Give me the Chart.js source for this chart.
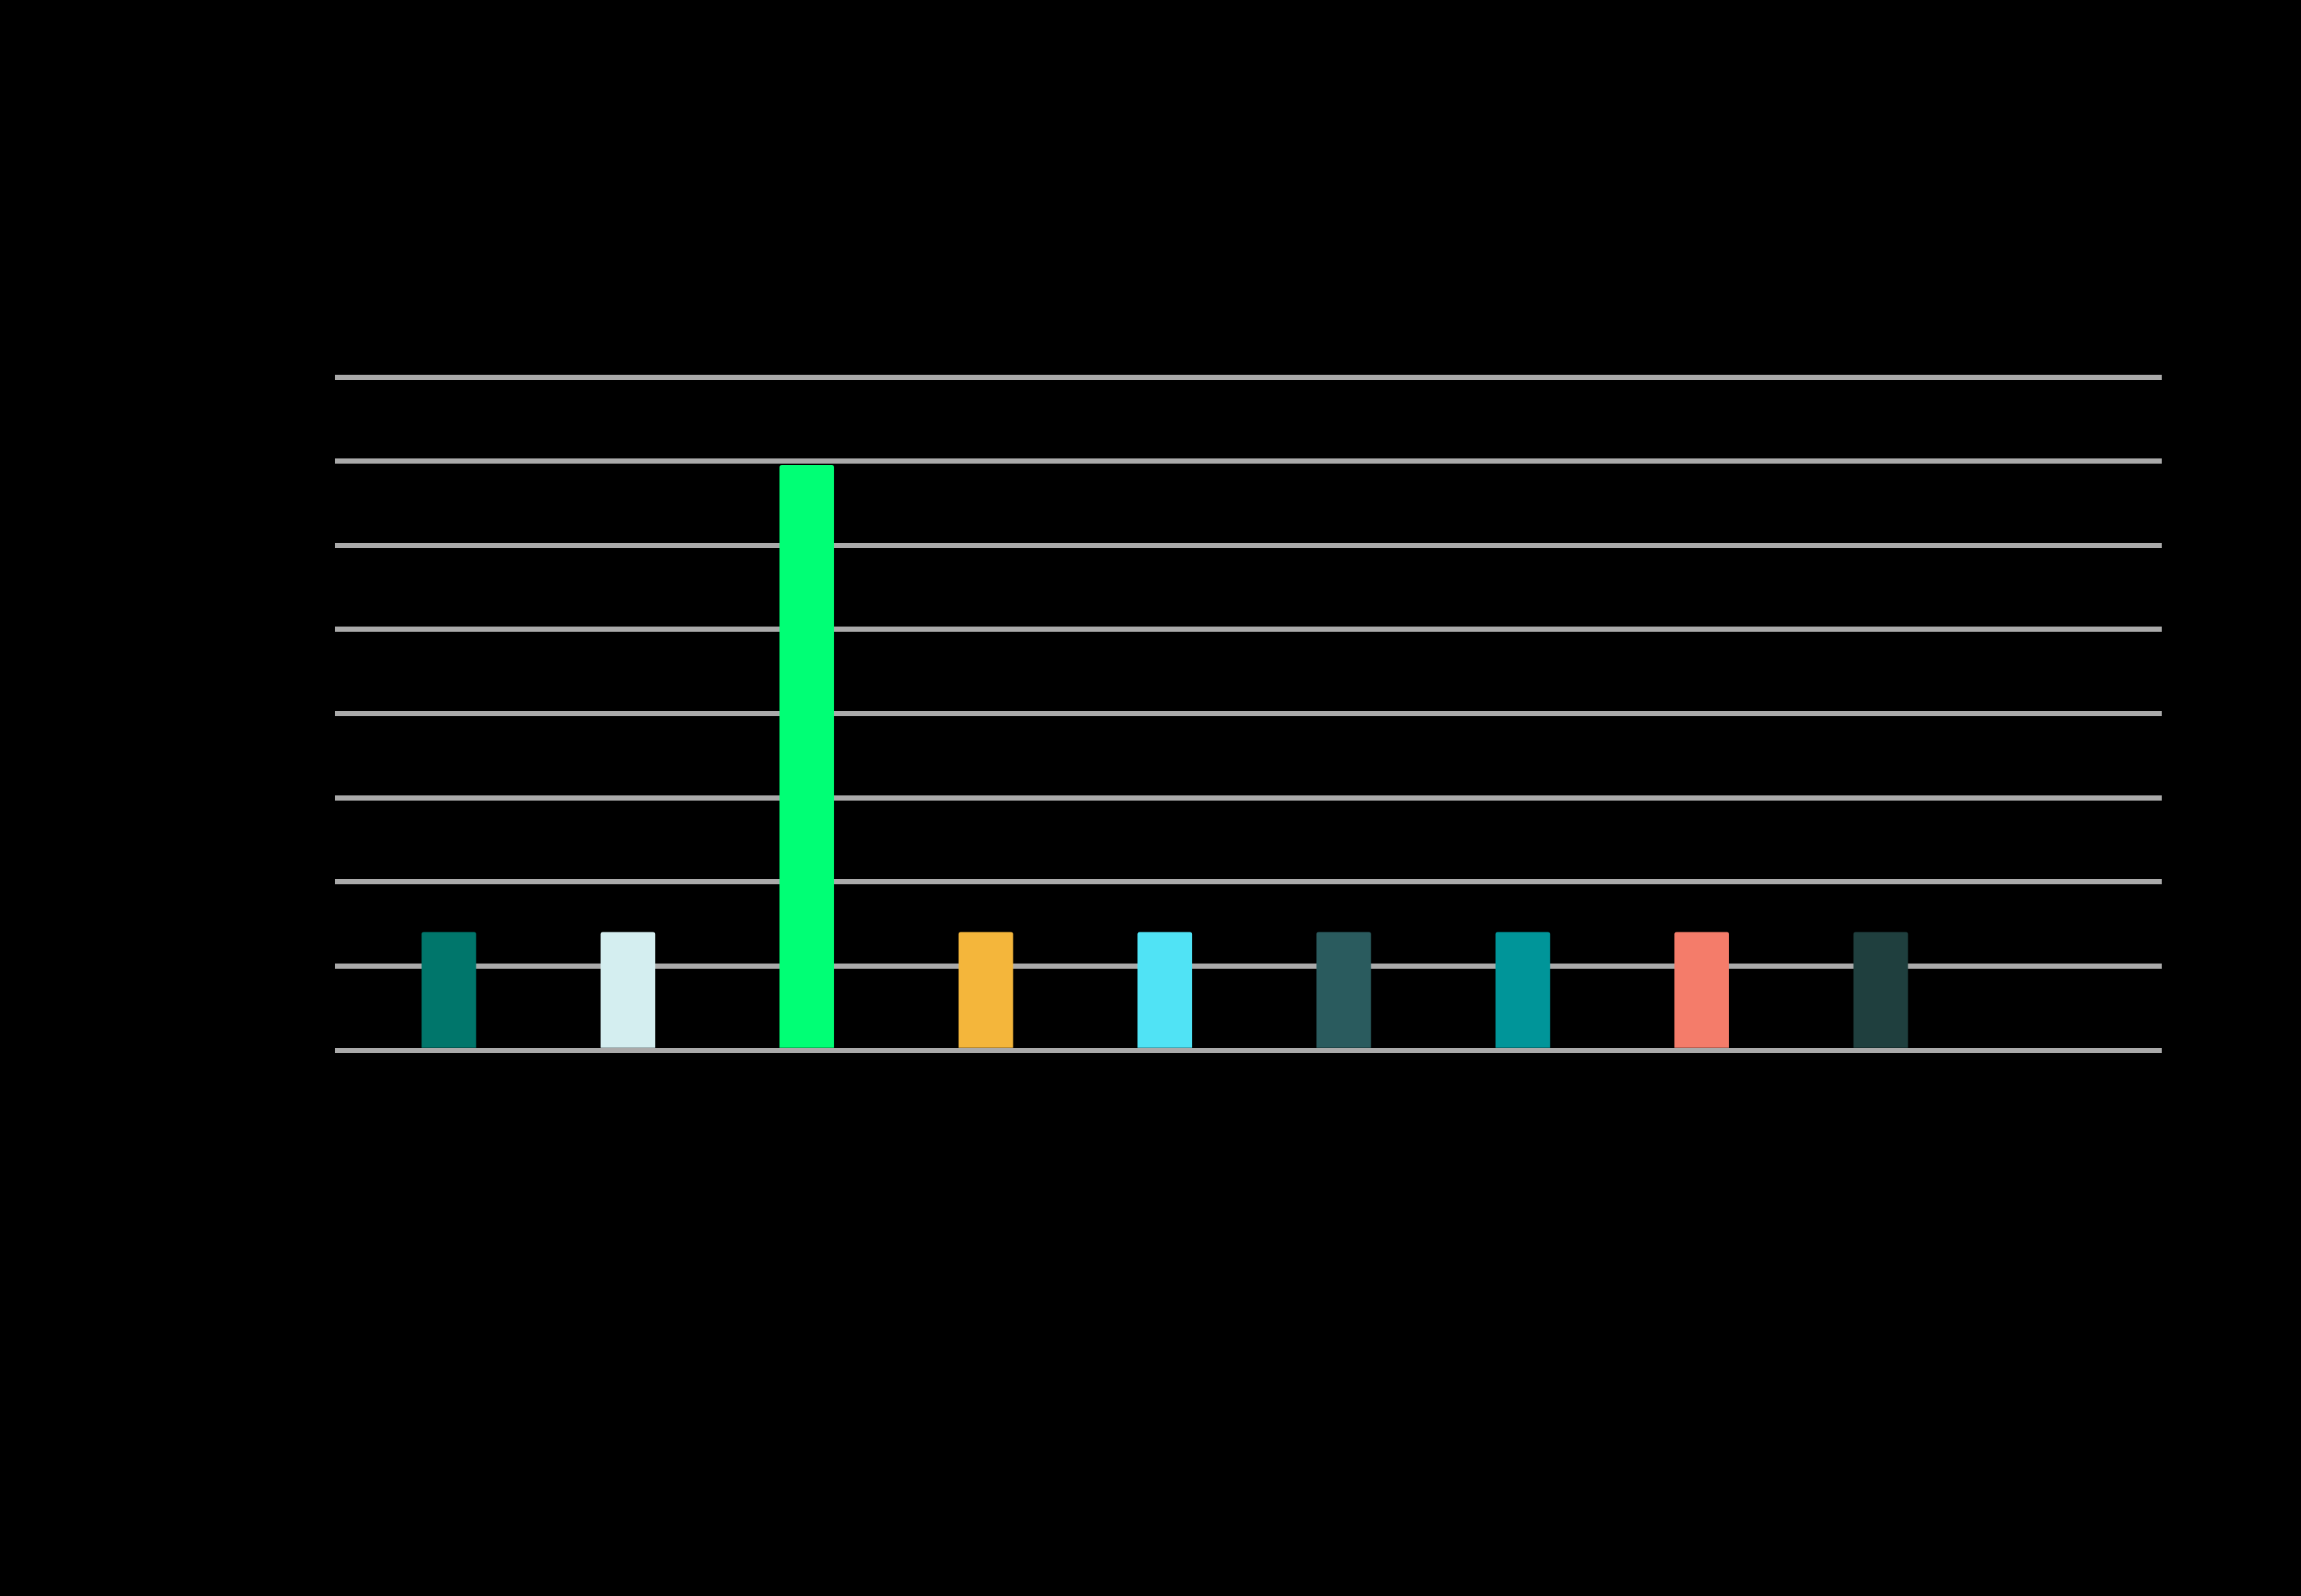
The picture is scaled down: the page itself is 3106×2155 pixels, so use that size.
<!DOCTYPE html>
<html>
<head>
<meta charset="utf-8">
<title>Bar chart</title>
<script src="https://cdn.jsdelivr.net/npm/chart.js@4/dist/chart.umd.min.js"></script>
<style>
    html, body { margin: 0; padding: 0; background: #000; }
    #wrap { width: 3106px; height: 2155px; position: relative; }
</style>
</head>
<body>
<div id="wrap"><canvas id="barChart"></canvas></div>
<script>
// 數據
const categories = ['1', '2', '3', '4', '5', '6', '7', '8', '9'];
const values = [1.4, 1.4, 6.95, 1.4, 1.4, 1.4, 1.4, 1.4, 1.4];
const barColors = ['#00766B', '#D4EEF0', '#00FF75', '#F4B63B', '#50E3F5', '#2A5B5E', '#009599', '#F47C6A', '#1F3F3E'];
const yTicks = [0, 1, 2, 3, 4, 5, 6, 7, 8];

document.addEventListener('DOMContentLoaded', function() {
    createBarChart();
});

function createBarChart() {
    const ctx = document.getElementById('barChart');
    if (!ctx) return;

    new Chart(ctx, {
        type: 'bar',
        data: {
            datasets: [
                {
                    label: '',
                    data: categories.map((c, i) => ({ x: i + 1, y: values[i] })),
                    backgroundColor: barColors,
                    borderWidth: 0,
                    borderRadius: 3,
                    borderSkipped: 'bottom',
                    barThickness: 73
                }
            ]
        },
        options: {
            responsive: true,
            maintainAspectRatio: false,
            animation: false,
            layout: {
                padding: { left: 452, right: 188, top: 509, bottom: 737 }
            },
            plugins: {
                legend: { display: false },
                tooltip: {
                    callbacks: {
                        title: function(items) {
                            return categories[items[0].dataIndex];
                        }
                    }
                }
            },
            scales: {
                x: {
                    type: 'linear',
                    offset: false,
                    min: 0.363,
                    max: 10.57,
                    ticks: { display: false, padding: 0 },
                    grid: { display: false, drawTicks: false },
                    border: { display: false }
                },
                y: {
                    min: yTicks[0],
                    max: yTicks[yTicks.length - 1],
                    afterBuildTicks: function(axis) {
                        axis.ticks = yTicks.map(v => ({ value: v }));
                    },
                    ticks: { display: false, padding: 0 },
                    grid: {
                        color: '#aaaaaa',
                        lineWidth: 7,
                        drawTicks: false
                    },
                    border: { display: false }
                }
            }
        }
    });
}
</script>
</body>
</html>
